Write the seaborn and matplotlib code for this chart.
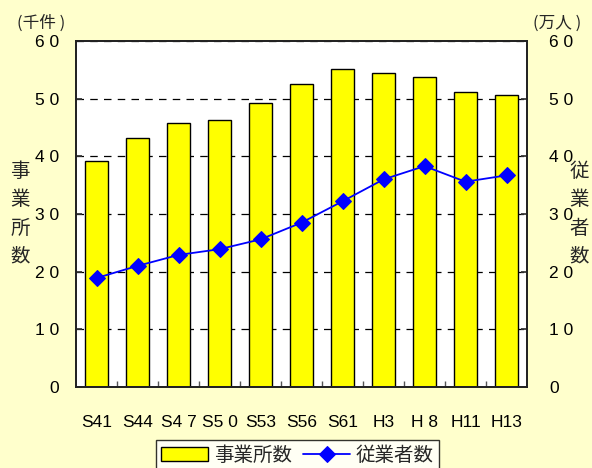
import matplotlib
matplotlib.use("Agg")
import matplotlib.pyplot as plt
from matplotlib.ticker import FixedLocator
import seaborn as sns
import pandas as pd

# Data
periods = ["S41", "S44", "S4 7", "S5 0", "S53", "S56", "S61", "H3", "H 8", "H11", "H13"]
establishments = [39.2, 43.2, 45.7, 46.3, 49.2, 52.5, 55.1, 54.4, 53.8, 51.2, 50.7]   # 千件
employees = [18.9, 21.0, 22.9, 23.9, 25.6, 28.5, 32.2, 36.0, 38.3, 35.6, 36.7]        # 万人
y_ticks = [0, 10, 20, 30, 40, 50, 60]
y_tick_labels = ["0", "1 0", "2 0", "3 0", "4 0", "5 0", "6 0"]

df = pd.DataFrame({"period": periods, "est": establishments, "emp": employees})

sns.set_theme(style="white")
jp = ["Noto Sans CJK JP", "DejaVu Sans"]
latin = ["Liberation Sans", "DejaVu Sans"]
plt.rcParams["font.family"] = latin

W, H = 592, 468
fig = plt.figure(figsize=(W / 100, H / 100), dpi=100, facecolor="#FFFFCC")
ax = fig.add_axes([76 / W, 1 - 387 / H, (527 - 76) / W, (387 - 41) / H])
ax.set_facecolor("white")

sns.barplot(data=df, x="period", y="est", ax=ax, color="#FFFF00",
            edgecolor="black", linewidth=1.0, width=0.56, saturation=1,
            label="事業所数")
if ax.get_legend() is not None:
    ax.get_legend().remove()
ax.set_xlim(-0.5, len(periods) - 0.5)
ax.set_ylim(0, 60)
ax.set_yticks(y_ticks)
ax.set_yticklabels(y_tick_labels)
ax.set_xlabel("")
ax.set_ylabel("")
ax.yaxis.grid(True, linestyle=(0, (6, 5)), color="black", linewidth=0.9)
ax.set_axisbelow(True)

ax2 = ax.twinx()
sns.lineplot(data=df, x="period", y="emp", ax=ax2, color="#0000FF", sort=False,
             marker="D", markersize=8, markeredgecolor="#0000FF",
             linewidth=1.3, label="従業者数", legend=False)
ax2.set_ylim(0, 60)
ax2.set_yticks(y_ticks)
ax2.set_yticklabels(y_tick_labels)
ax2.set_ylabel("")
ax2.set_xlabel("")

for a in (ax, ax2):
    for s in a.spines.values():
        s.set_color("#222222")
        s.set_linewidth(1.3)

ax.tick_params(axis="y", left=True, direction="in", length=4, color="#333333",
               labelsize=12.5, pad=12, labelcolor="black")
ax2.tick_params(axis="y", right=True, direction="in", length=4, color="#333333",
                labelsize=12.5, pad=16, labelcolor="black")
ax.tick_params(axis="x", bottom=False, labelsize=12.5, pad=14, labelcolor="black")
ax.xaxis.set_minor_locator(FixedLocator([i + 0.5 for i in range(len(periods) - 1)]))
ax.tick_params(axis="x", which="minor", bottom=True, direction="in", length=4,
               color="#555555", width=1)

# Axis titles and units
fig.text(20 / W, 1 - 214 / H, "事\n業\n所\n数", family=jp, fontsize=14,
         ha="center", va="center", linespacing=1.45)
fig.text(579 / W, 1 - 214 / H, "従\n業\n者\n数", family=jp, fontsize=14,
         ha="center", va="center", linespacing=1.45)
fig.text(17 / W, 1 - 23 / H, "(千件 )", family=jp, fontsize=12, ha="left", va="center")
fig.text(533 / W, 1 - 23 / H, "(万人 )", family=jp, fontsize=12, ha="left", va="center")

h1, l1 = ax.get_legend_handles_labels()
h2, l2 = ax2.get_legend_handles_labels()
leg = fig.legend(h1 + h2, l1 + l2, loc="upper center",
                 bbox_to_anchor=(297.5 / W, 1 - 440 / H), ncol=2,
                 prop={"family": jp, "size": 14}, frameon=True, fancybox=False,
                 edgecolor="black", handlelength=2.4, handleheight=0.7,
                 columnspacing=0.6, handletextpad=0.3, borderpad=0.25,
                 borderaxespad=0)
leg.get_frame().set_linewidth(1.0)
leg.get_frame().set_facecolor("white")

fig.savefig("out.png", dpi=100, facecolor=fig.get_facecolor())
